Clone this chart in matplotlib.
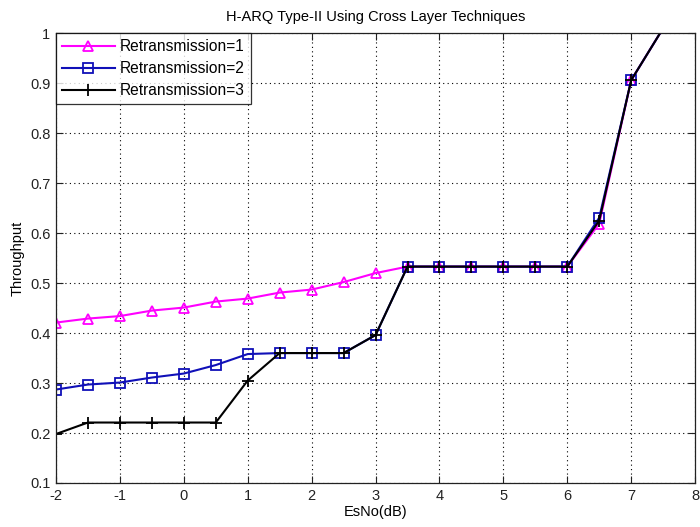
import matplotlib
matplotlib.use("Agg")
import matplotlib.pyplot as plt

plt.rcParams['font.family'] = ['Liberation Sans', 'DejaVu Sans']
plt.rcParams['axes.unicode_minus'] = False

# Es/No sweep in dB
esno = [-2, -1.5, -1, -0.5, 0, 0.5, 1, 1.5, 2, 2.5, 3, 3.5, 4, 4.5, 5, 5.5, 6, 6.5, 7, 7.5]

# Throughput for each maximum number of retransmissions
thr_r1 = [0.421, 0.429, 0.434, 0.445, 0.451, 0.463, 0.469, 0.481, 0.487, 0.502, 0.520,
          0.533, 0.533, 0.533, 0.533, 0.533, 0.533, 0.619, 0.906, 1.01]
thr_r2 = [0.287, 0.297, 0.301, 0.311, 0.319, 0.336, 0.358, 0.360, 0.360, 0.360, 0.396,
          0.533, 0.533, 0.533, 0.533, 0.533, 0.533, 0.631, 0.906, 1.01]
thr_r3 = [0.198, 0.221, 0.221, 0.221, 0.221, 0.221, 0.305, 0.360, 0.360, 0.360, 0.396,
          0.533, 0.533, 0.533, 0.533, 0.533, 0.533, 0.625, 0.906, 1.01]

labels = ['Retransmission=1', 'Retransmission=2', 'Retransmission=3']

fig = plt.figure(figsize=(7.0, 5.27), dpi=100)
ax = fig.add_axes([0.080, 0.0835, 0.913, 0.8535])

ax.plot(esno, thr_r1, color='#ff00ff', lw=1.5, marker='^', ms=7, mfc='none',
        mew=1.3, label=labels[0])
ax.plot(esno, thr_r2, color='#1010b8', lw=1.5, marker='s', ms=7, mfc='none',
        mew=1.3, label=labels[1])
ax.plot(esno, thr_r3, color='black', lw=1.5, marker='+', ms=9, mew=1.3,
        label=labels[2])

ax.set_xlim(-2, 8)
ax.set_ylim(0.1, 1)
ax.set_xticks(range(-2, 9))
ax.set_yticks([0.1, 0.2, 0.3, 0.4, 0.5, 0.6, 0.7, 0.8, 0.9, 1.0])
ax.set_yticklabels(['0.1', '0.2', '0.3', '0.4', '0.5', '0.6', '0.7', '0.8', '0.9', '1'])
ax.grid(True, linestyle=(0, (1, 3)), color='black', linewidth=0.8)
ax.tick_params(direction='in', length=5, width=0.8, labelsize=10.5, colors='#222222',
               top=True, right=True, pad=4)
for s in ax.spines.values():
    s.set_linewidth(0.9)
    s.set_color('#222222')

ax.set_title('H-ARQ Type-II Using Cross Layer Techniques', fontsize=10.5, pad=9)
ax.set_xlabel('EsNo(dB)', fontsize=10.5, labelpad=2)
ax.set_ylabel('Throughput', fontsize=10.5, labelpad=4)

leg = ax.legend(loc='upper left', fontsize=11.2, frameon=True, fancybox=False,
                borderaxespad=0, handlelength=3.4, borderpad=0.38, labelspacing=0.45,
                handletextpad=0.33)
leg.get_frame().set_edgecolor('black')
leg.get_frame().set_linewidth(0.9)

fig.savefig('out.png', dpi=100)
